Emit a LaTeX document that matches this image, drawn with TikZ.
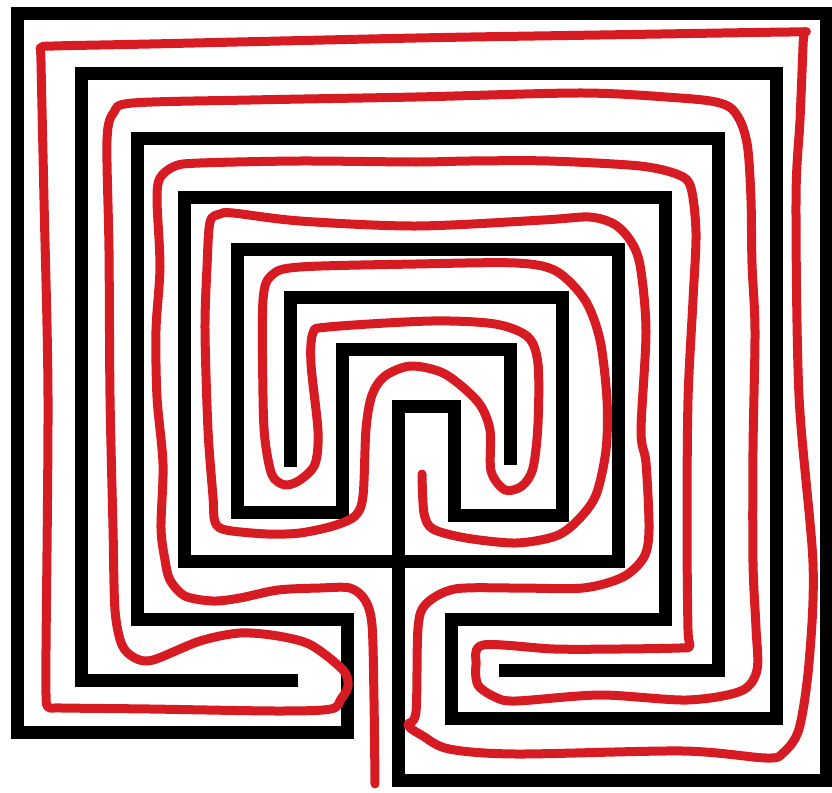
\documentclass[tikz,border=0pt]{standalone}
\usepackage{tikz}
\definecolor{trackred}{RGB}{215,27,34}

\begin{document}
\begin{tikzpicture}[
    x=1pt, y=-1pt,
    wall/.style={line width=13pt, line join=miter, line cap=rect, black},
    track/.style={line width=9pt, line join=round, line cap=round, trackred}
]
\useasboundingbox (0,0) rectangle (832,792);

\draw[wall] (505.5,670) -- (718.5,670) -- (718.5,138.5) -- (137.5,138.5) -- (137.5,619.5)
    -- (347.5,619.5) -- (347.5,732) -- (17.5,732) -- (17.5,13.5) -- (826.5,13.5)
    -- (826.5,780) -- (398.5,780) -- (398.5,406.5) -- (454.5,406.5) -- (454.5,515)
    -- (562.5,515) -- (562.5,297.5) -- (290.5,297.5) -- (290.5,460.5);
\draw[wall] (291.5,680.5) -- (81.5,680.5) -- (81.5,73.5) -- (776.5,73.5) -- (776.5,718.5)
    -- (451,718.5) -- (451,619.5) -- (665.5,619.5) -- (665.5,197.5) -- (184.5,197.5)
    -- (184.5,561.5) -- (618.5,561.5) -- (618.5,249.5) -- (237.5,249.5) -- (237.5,512.5)
    -- (342.5,512.5) -- (342.5,349.5) -- (510.5,349.5) -- (510.5,458.5);

\draw[track] plot[smooth, tension=0.5] coordinates {
    (375,784) (374,700) (372,625) (365,600) (350,588) (320,588) (278,590) (240,598)
    (213,601) (185,596) (170,580) (165,560) (161,528) (163,464) (157,397) (156,330)
    (160,267) (157,200) (160,178) (175,166) (200,163) (300,161) (416,162) (470,161)
    (549,161) (640,166) (679,175) (691,188) (696,233) (693,300) (688,400) (687,528)
    (688,630) (690,646) (680,648) (620,649) (554,649) (483,645) (476,665) (478,685)
    (495,697) (516,701) (600,695) (687,700) (741,691) (757,670) (756,628) (753,563)
    (753,450) (755,331) (752,264) (751,200) (748,150) (742,125) (732,109) (716,102)
    (680,98) (583,93) (416,97) (250,100) (133,103) (114,112) (107,140) (109,250)
    (110,396) (113,528) (115,610) (122,645) (135,658) (153,660) (200,641) (240,633)
    (278,636) (311,645) (343,670) (348,686) (341,699) (331,709) (278,711) (150,709)
    (62,708) (48,707) (46,694) (46,650) (48,396) (44,200) (41,62) (41,48) (54,46)
    (150,44) (416,38) (600,35) (790,32) (803,33) (803,46) (800,120) (796,200)
    (799,396) (813,563) (809,663) (799,729) (783,753) (766,758) (683,751) (516,754)
    (449,749) (423,736) (408,725) (416,712) (418,628) (426,604) (455,589) (516,588)
    (583,588) (623,577) (644,557) (649,529) (646,463) (641,431) (646,331) (640,265)
    (630,240) (614,224) (589,217) (543,220) (416,226) (300,221) (233,213) (220,214)
    (210,222) (207,267) (205,330) (208,430) (213,497) (215,522) (226,530) (267,534)
    (300,533) (333,526) (355,516) (363,496) (366,429) (372,395) (385,376) (411,366)
    (445,374) (478,402) (490,430) (491,471) (505,490) (522,486) (533,468) (538,424)
    (538,364) (528,337) (495,324) (431,321) (328,327) (313,333) (311,364) (318,431)
    (315,464) (300,480) (285,485) (272,475) (265,440) (263,396) (263,300) (272,275)
    (300,267) (416,264) (516,263) (556,271) (585,300) (600,340) (607,400) (606,450)
    (596,495) (578,520) (556,536) (516,543) (466,538) (433,529) (424,513) (422,474)
};
\end{tikzpicture}
\end{document}
